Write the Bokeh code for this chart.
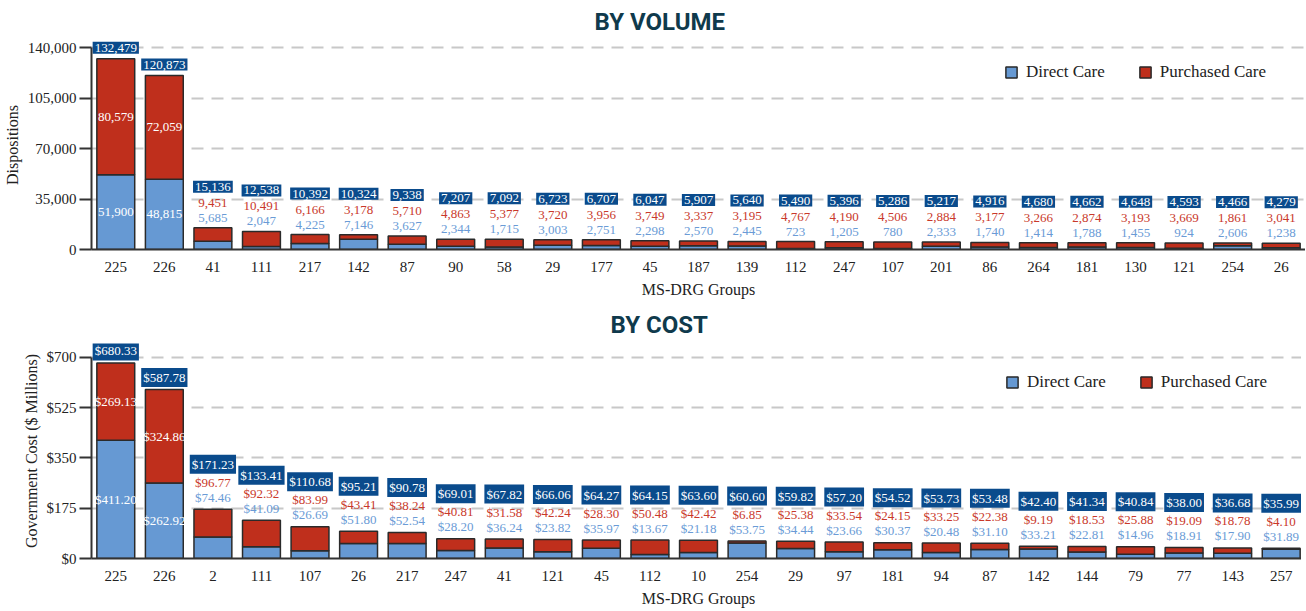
from bokeh.plotting import figure
from bokeh.layouts import column
from bokeh.models import ColumnDataSource, FixedTicker, NumeralTickFormatter, Range1d, FactorRange
from bokeh.core.properties import value
from bokeh.embed import file_html
from bokeh.resources import INLINE

# ---------------- data ----------------
vol_groups = ["225", "226", "41", "111", "217", "142", "87", "90", "58", "29", "177", "45", "187",
              "139", "112", "247", "107", "201", "86", "264", "181", "130", "121", "254", "26"]
vol_direct = [51900, 48815, 5685, 2047, 4225, 7146, 3627, 2344, 1715, 3003, 2751, 2298, 2570,
              2445, 723, 1205, 780, 2333, 1740, 1414, 1788, 1455, 924, 2606, 1238]
vol_purchased = [80579, 72059, 9451, 10491, 6166, 3178, 5710, 4863, 5377, 3720, 3956, 3749, 3337,
                 3195, 4767, 4190, 4506, 2884, 3177, 3266, 2874, 3193, 3669, 1861, 3041]
vol_total = [132479, 120873, 15136, 12538, 10392, 10324, 9338, 7207, 7092, 6723, 6707, 6047, 5907,
             5640, 5490, 5396, 5286, 5217, 4916, 4680, 4662, 4648, 4593, 4466, 4279]
vol_ticks = [0, 35000, 70000, 105000, 140000]

cost_groups = ["225", "226", "2", "111", "107", "26", "217", "247", "41", "121", "45", "112", "10",
               "254", "29", "97", "181", "94", "87", "142", "144", "79", "77", "143", "257"]
cost_direct = [411.20, 262.92, 74.46, 41.09, 26.69, 51.80, 52.54, 28.20, 36.24, 23.82, 35.97, 13.67,
               21.18, 53.75, 34.44, 23.66, 30.37, 20.48, 31.10, 33.21, 22.81, 14.96, 18.91, 17.90, 31.89]
cost_purchased = [269.13, 324.86, 96.77, 92.32, 83.99, 43.41, 38.24, 40.81, 31.58, 42.24, 28.30, 50.48,
                  42.42, 6.85, 25.38, 33.54, 24.15, 33.25, 22.38, 9.19, 18.53, 25.88, 19.09, 18.78, 4.10]
cost_total = [680.33, 587.78, 171.23, 133.41, 110.68, 95.21, 90.78, 69.01, 67.82, 66.06, 64.27, 64.15,
              63.60, 60.60, 59.82, 57.20, 54.52, 53.73, 53.48, 42.40, 41.34, 40.84, 38.00, 36.68, 35.99]
cost_ticks = [0, 175, 350, 525, 700]

series_names = ["Direct Care", "Purchased Care"]

# ---------------- style ----------------
BLUE = "#6699d3"
RED = "#bf2f1c"
BLUE_TXT = "#6a9bd6"
RED_TXT = "#c9382a"
BOX = "#0a4b8c"
NAVY = "#0f3a4c"
SERIF = "Liberation Serif"


def make_chart(title, title_offset, groups, direct, purchased, total, ticks, ymax, tick_fmt, ylabel,
               fmt, frame_h, offs, legend_loc):
    p = figure(x_range=FactorRange(*groups, range_padding=0), y_range=Range1d(0, ymax),
               frame_width=1214, frame_height=frame_h, output_backend="svg", toolbar_location=None,
               min_border_left=87, min_border_right=0, min_border_top=0, min_border_bottom=0)
    p.outline_line_color = None
    p.title.text = title
    p.title.align = "left"
    p.title.offset = title_offset
    p.title.text_font = "Roboto"
    p.title.text_font_style = "bold"
    p.title.text_font_size = "24px"
    p.title.text_color = NAVY

    src = ColumnDataSource(dict(g=groups, d=direct, pc=purchased))
    p.vbar_stack(["d", "pc"], x="g", width=0.78, source=src, color=[BLUE, RED],
                 line_color="#2a2a2a", line_width=1.5, legend_label=series_names)

    big = [t > 0.3 * max(total) for t in total]
    # inside labels for tall bars
    ins = ColumnDataSource(dict(
        g=[g for g, b in zip(groups, big) if b] * 2,
        y=[d / 2 for d, b in zip(direct, big) if b] + [d + pc / 2 for d, pc, b in zip(direct, purchased, big) if b],
        t=[fmt(d) for d, b in zip(direct, big) if b] + [fmt(pc) for pc, b in zip(purchased, big) if b]))
    p.text(x="g", y="y", text="t", source=ins, text_color="white", text_font=value(SERIF),
           text_font_size="13px", text_align="center", text_baseline="middle")

    # stacked labels above small bars
    sm = ColumnDataSource(dict(
        g=[g for g, b in zip(groups, big) if not b],
        y=[t for t, b in zip(total, big) if not b],
        td=[fmt(d) for d, b in zip(direct, big) if not b],
        tp=[fmt(pc) for pc, b in zip(purchased, big) if not b]))
    p.text(x="g", y="y", text="td", source=sm, y_offset=offs[0], text_color=BLUE_TXT,
           text_font=value(SERIF), text_font_size="13px", text_align="center", text_baseline="middle")
    p.text(x="g", y="y", text="tp", source=sm, y_offset=offs[1], text_color=RED_TXT,
           text_font=value(SERIF), text_font_size="13px", text_align="center", text_baseline="middle")

    # total boxes
    tb = ColumnDataSource(dict(g=groups, y=total, t=[fmt(t) for t in total],
                               o=[offs[3] if b else offs[2] for b in big]))
    p.text(x="g", y="y", text="t", source=tb, y_offset="o", text_color="white",
           text_font=value(SERIF), text_font_size="13px", text_align="center", text_baseline="middle",
           background_fill_color=BOX, padding=2)

    # axes
    p.yaxis.ticker = FixedTicker(ticks=ticks)
    p.yaxis.formatter = NumeralTickFormatter(format=tick_fmt)
    p.yaxis.bounds = (ticks[0], ticks[-1])
    p.yaxis.axis_label = ylabel
    p.xaxis.axis_label = "MS-DRG Groups"
    for ax in (p.xaxis, p.yaxis):
        ax.axis_label_text_font = SERIF
        ax.axis_label_text_font_style = "normal"
        ax.axis_label_text_font_size = "16px"
        ax.axis_label_text_color = "#222222"
        ax.major_label_text_font = SERIF
        ax.major_label_text_font_size = "15px"
        ax.major_label_text_color = "#222222"
        ax.axis_line_color = "#333333"
        ax.axis_line_width = 2
        ax.minor_tick_line_color = None
    p.yaxis.major_tick_out = 12
    p.yaxis.major_tick_in = 0
    p.yaxis.major_tick_line_color = "#333333"
    p.yaxis.major_tick_line_width = 2
    p.yaxis.major_label_standoff = 3
    p.yaxis.axis_label_standoff = 4
    p.xaxis.major_tick_line_color = None
    p.xaxis.major_tick_out = 0
    p.xaxis.major_tick_in = 0
    p.xaxis.major_label_standoff = 12
    p.xaxis.axis_label_standoff = 6
    p.xgrid.visible = False
    p.ygrid.ticker = FixedTicker(ticks=ticks[1:])
    p.ygrid.grid_line_color = "#c8c8c8"
    p.ygrid.grid_line_width = 2
    p.ygrid.grid_line_dash = "12 8"

    lg = p.legend[0]
    lg.location = legend_loc
    lg.orientation = "horizontal"
    lg.border_line_color = None
    lg.background_fill_alpha = 0
    lg.margin = 0
    lg.padding = 0
    lg.spacing = 33
    lg.glyph_width = 14
    lg.glyph_height = 14
    lg.label_height = 14
    lg.label_standoff = 8
    lg.label_text_font = SERIF
    lg.label_text_font_size = "17px"
    lg.label_text_color = "#222222"
    return p


p1 = make_chart("BY VOLUME", 503, vol_groups, vol_direct, vol_purchased, vol_total, vol_ticks, 145200,
                "0,0", "Dispositions", lambda v: f"{v:,}", 209, (-10, -25, -41, -11), (913, 167))
p2 = make_chart("BY COST", 519, cost_groups, cost_direct, cost_purchased, cost_total, cost_ticks, 748,
                "$0", "Government Cost ($ Millions)", lambda v: f"${v:,.2f}", 215, (-12, -27, -45, -12),
                (928, 166))

p = column(p1, p2, spacing=3)
open("out.html", "w").write(file_html(p, INLINE))
